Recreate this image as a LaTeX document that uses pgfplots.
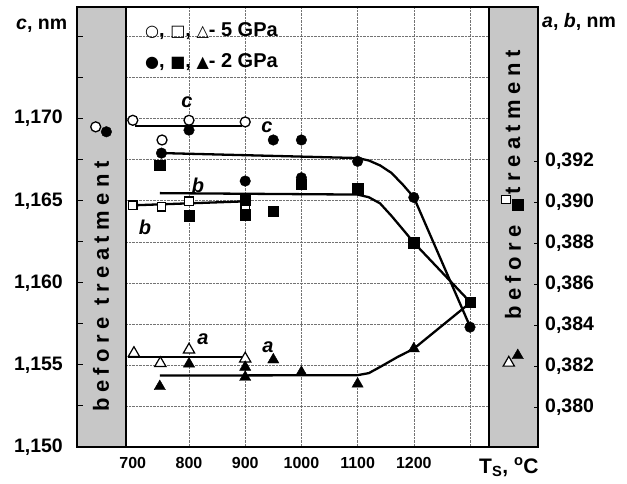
\documentclass[border=0pt]{standalone}
\usepackage{fontspec}
\setmainfont{Liberation Sans}
\newfontfamily\sym{DejaVu Sans}
\newfontfamily\spaced[LetterSpace=25]{Liberation Sans}
\usepackage{pgfplots}
\pgfplotsset{compat=1.18}
\begin{document}
\begin{tikzpicture}
\path[use as bounding box] (0,0) rectangle (627pt,483pt);
\pgfplotsset{
  common/.style={at={(77pt,36pt)}, anchor=south west, scale only axis, width=461pt, height=440pt, xmin=600.7, xmax=1421},
  lin/.style={no marks, line width=2.3pt, black},
  oc/.style={only marks, mark=*, mark size=5pt, mark options={fill=white, draw=black, line width=1.3pt}},
  fc/.style={only marks, mark=*, mark size=5.3pt, mark options={fill=black, draw=black}},
  os/.style={only marks, mark=square*, mark size=4.2pt, mark options={fill=white, draw=black, line width=1.3pt}},
  fs/.style={only marks, mark=square*, mark size=5.2pt, mark options={fill=black, draw=black}},
  ot/.style={only marks, mark=triangle*, mark size=6.5pt, mark options={fill=white, draw=black, line width=1.2pt}},
  ft/.style={only marks, mark=triangle*, mark size=6.5pt, mark options={fill=black, draw=black}},
}
% background: grid and strips
\begin{axis}[common, ymin=1.150, ymax=1.1768,
  xtick={800,900,1000,1100,1200,1300}, ytick={1.1525,1.155,1.1575,1.160,1.1625,1.165,1.1675,1.170,1.1725,1.175},
  xticklabels={}, yticklabels={}, tick style={draw=none}, axis line style={draw=none},
  grid=major, grid style={densely dotted, black!55, line width=0.5pt}]
\fill[black!22] (axis cs:600.7,1.150) rectangle (axis cs:688,1.1768);
\fill[black!22] (axis cs:1334,1.150) rectangle (axis cs:1421,1.1768);
\draw[line width=1.3pt] (axis cs:688,1.150) -- (axis cs:688,1.1768);
\draw[line width=1.3pt] (axis cs:1334,1.150) -- (axis cs:1334,1.1768);
\end{axis}
% c axis (left)
\begin{axis}[common, ymin=1.150, ymax=1.1768,
  ytick={1.150,1.155,1.160,1.165,1.170},
  minor ytick={1.1525,1.1575,1.1625,1.1675,1.1725,1.175},
  ytick pos=left, tick align=inside, major tick length=6pt, minor tick length=6pt,
  xtick={700,800,900,1000,1100,1200}, xtick style={draw=none},
  scaled y ticks=false,
  axis line style={line width=1.3pt},
  tick style={line width=1pt, black},
  yticklabel style={font=\fontsize{19.5}{19.5}\selectfont\bfseries, inner sep=0pt, xshift=-14pt,
    /pgf/number format/.cd, fixed, fixed zerofill, precision=3, use comma, assume math mode=true},
  xticklabel style={font=\fontsize{16}{16}\selectfont\bfseries, inner sep=0pt, yshift=-10pt,
    /pgf/number format/.cd, set thousands separator={}, assume math mode=true}]
\addplot[lin] coordinates {(704,1.16957) (894,1.16957)};
\addplot[lin] coordinates {(755,1.16790) (1100,1.16760) (1120,1.16745) (1140,1.16715) (1160,1.16670) (1180,1.16600) (1200,1.16521) (1300,1.15734)};
\addplot[oc] coordinates {(700,1.1699) (752,1.1687) (800,1.1699) (900,1.1698) (634,1.1695)};
\addplot[fc] coordinates {(751,1.1679) (800,1.1693) (900,1.1662) (950,1.1687) (1000,1.1687) (1000,1.1664) (1100,1.1674) (1200,1.1652) (1300,1.1573) (653,1.1692)};
\end{axis}
% a, b axis (right)
\begin{axis}[common, ymin=0.37808, ymax=0.39952,
  axis x line=none, axis y line*=right,
  ytick={0.380,0.382,0.384,0.386,0.388,0.390,0.392},
  tick align=inside, major tick length=4pt,
  scaled y ticks=false,
  axis line style={line width=1.3pt},
  tick style={line width=1pt, black},
  yticklabel style={font=\fontsize{19.5}{19.5}\selectfont\bfseries, inner sep=0pt, xshift=7pt,
    /pgf/number format/.cd, fixed, fixed zerofill, precision=3, use comma, assume math mode=true}]
\addplot[lin] coordinates {(704,0.38986) (900,0.39005)};
\addplot[lin] coordinates {(748,0.39045) (1100,0.39038) (1120,0.39025) (1140,0.38995) (1160,0.38935) (1180,0.38870) (1200,0.38804) (1300,0.38515)};
\addplot[lin] coordinates {(692,0.38246) (902,0.38246)};
\addplot[lin] coordinates {(748,0.38156) (1100,0.38158) (1120,0.38168) (1140,0.38198) (1170,0.38245) (1200,0.38287) (1300,0.38510)};
\addplot[os] coordinates {(700,0.38986) (751,0.38978) (800,0.39005) (900,0.38971) (1364,0.39014)};
\addplot[fs] coordinates {(748,0.39182) (800,0.38935) (900,0.39014) (900,0.38940) (950,0.38956) (1000,0.39090) (1100,0.39066) (1200,0.38804) (1300,0.38515) (1385,0.38989)};
\addplot[ot] coordinates {(702,0.38265) (749,0.38216) (800,0.38282) (900,0.38238) (1369,0.38218)};
\addplot[ft] coordinates {(748,0.38103) (800,0.38213) (900,0.38197) (900,0.38148) (950,0.38233) (1000,0.38172) (1100,0.38115) (1200,0.38287) (1385,0.38254)};
\end{axis}
% texts
\node[anchor=base west, font=\fontsize{19.5}{19.5}\selectfont\bfseries, inner sep=0pt] at (16pt,453pt) {\textit{c}, nm};
\node[anchor=base west, font=\fontsize{19.5}{19.5}\selectfont\bfseries, inner sep=0pt] at (542pt,455pt) {\textit{a}, \textit{b}, nm};
\node[anchor=base west, font=\fontsize{20}{20}\selectfont\bfseries, inner sep=0pt] at (145pt,446pt) {{\sym\fontsize{16}{16}\selectfont ○}, {\sym\fontsize{16}{16}\selectfont □}, {\sym\fontsize{16}{16}\selectfont △}- 5 GPa};
\node[anchor=base west, font=\fontsize{20}{20}\selectfont\bfseries, inner sep=0pt] at (145pt,415pt) {{\sym\fontsize{16}{16}\selectfont ●}, {\sym\fontsize{16}{16}\selectfont ■}, {\sym\fontsize{16}{16}\selectfont ▲}- 2 GPa};
\begin{scope}[every node/.style={font=\fontsize{20}{20}\selectfont\bfseries\itshape, inner sep=0pt}]
\node at (187pt,381pt) {c};
\node at (267pt,356pt) {c};
\node at (198pt,298pt) {b};
\node at (145pt,256pt) {b};
\node at (203pt,144pt) {a};
\node at (268pt,136pt) {a};
\end{scope}
\node[rotate=90, anchor=west, font=\spaced\fontsize{22}{22}\selectfont\bfseries, inner sep=0pt] at (101pt,71pt) {before treatment};
\node[rotate=90, anchor=west, font=\spaced\fontsize{22}{22}\selectfont\bfseries, inner sep=0pt] at (513pt,163pt) {before};
\node[rotate=90, anchor=east, font=\spaced\fontsize{22}{22}\selectfont\bfseries, inner sep=0pt] at (513pt,433pt) {treatment};
\node[anchor=base west, font=\fontsize{21}{21}\selectfont\bfseries, inner sep=0pt] at (479pt,10pt) {T\textsubscript{S}, \textsuperscript{o}C};
\end{tikzpicture}
\end{document}
